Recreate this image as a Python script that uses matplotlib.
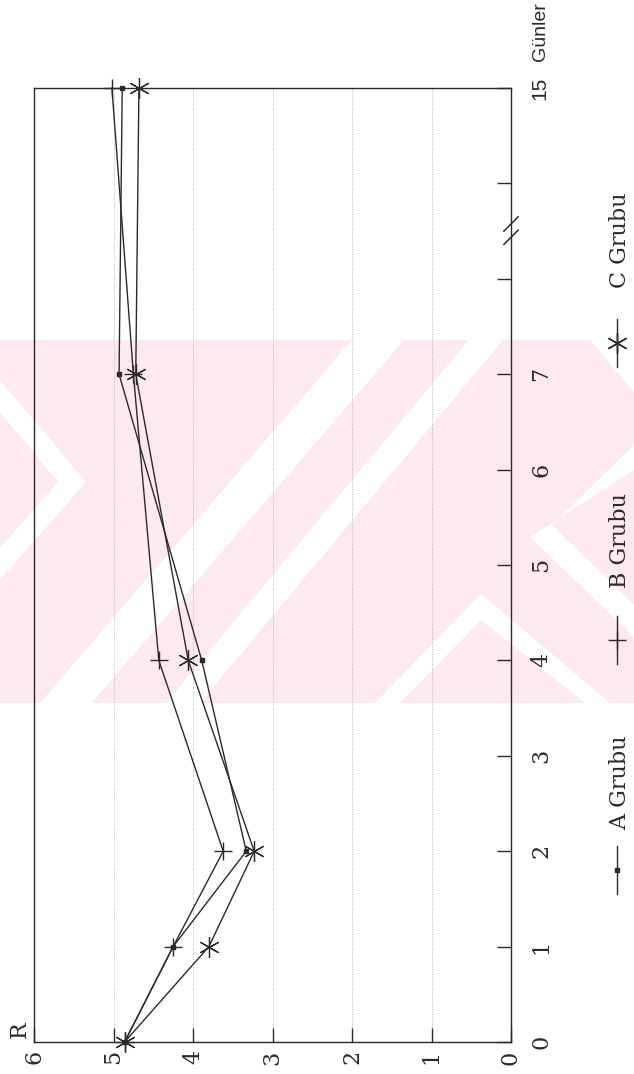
import matplotlib.pyplot as plt
from matplotlib.lines import Line2D
from matplotlib.patches import Polygon

# gün ekseni: 0..7, sonra kırık, 15
gun_etiket = ["0", "1", "2", "3", "4", "5", "6", "7", "", "", "15"]
gun_pos = list(range(len(gun_etiket)))
olcum_pos = [0, 1, 2, 4, 7, 10]          # 0, 1, 2, 4, 7, 15. günler
r_ticks = [0, 1, 2, 3, 4, 5, 6]

a_grubu = [4.86, 4.25, 3.33, 3.89, 4.93, 4.89]
b_grubu = [4.86, 4.25, 3.62, 4.43, 4.75, 5.02]
c_grubu = [4.86, 3.80, 3.23, 4.06, 4.72, 4.68]

W, H = 634, 1074
SERIF = "DejaVu Serif"
SANS = "Liberation Sans"
INK = "#2a2a2a"


def px(x, y):
    return (x / W, 1 - y / H)


fig = plt.figure(figsize=(W / 100, H / 100), dpi=100)

# pembe filigran (sayfadaki arka plan)
pembe = "#fdeaef"
fig.add_artist(Polygon([px(0, 340), px(634, 340), px(634, 703), px(0, 703)],
                       closed=True, fc=pembe, ec="none", zorder=-2,
                       transform=fig.transFigure))
beyaz = [
    [(0, 380), (86, 482), (0, 580), (0, 548), (58, 482), (0, 412)],
    [(352, 340), (404, 340), (92, 703), (40, 703)],
    [(469, 340), (503, 340), (200, 703), (166, 703)],
    [(590, 340), (634, 340), (634, 392)],
    [(634, 445), (552, 525), (634, 605), (634, 637), (530, 537), (634, 470)],
    [(481, 594), (610, 703), (585, 703), (481, 620), (400, 703), (375, 703)],
]
for pts in beyaz:
    fig.add_artist(Polygon([px(x, y) for x, y in pts], closed=True,
                           fc="white", ec="none", zorder=-1,
                           transform=fig.transFigure))

ax = fig.add_axes([34 / W, 1 - 1042 / H, (511 - 34) / W, (1042 - 88) / H])
ax.patch.set_alpha(0)

ax.plot(a_grubu, olcum_pos, color=INK, lw=1, marker="s", ms=3,
        clip_on=False, zorder=3)
ax.plot(b_grubu, olcum_pos, color=INK, lw=1, marker="+", ms=13, mew=1,
        clip_on=False, zorder=3)
ax.plot(c_grubu, olcum_pos, color=INK, lw=1, marker=(6, 2, 0), ms=15, mew=0.9,
        clip_on=False, zorder=3)

ax.set_xlim(6, 0)
ax.set_ylim(0, 10)
ax.set_xticks(r_ticks)
ax.set_xticklabels([str(v) for v in r_ticks], rotation=90, family=SERIF,
                   fontsize=16, color=INK)
ax.yaxis.tick_right()
ax.set_yticks(gun_pos)
ax.set_yticklabels(gun_etiket, rotation=90, va="center", family=SERIF,
                   fontsize=16, color=INK)
ax.get_yticklabels()[-1].set_family(SANS)
ax.get_yticklabels()[-1].set_fontsize(15)
ax.tick_params(direction="in", length=10, width=1, color=INK)
ax.tick_params(axis="y", pad=14)
ax.tick_params(axis="x", pad=6)
ax.grid(axis="x", linestyle=(0, (1, 2)), color="#9a9a9a", lw=0.6)
for s in ax.spines.values():
    s.set_color(INK)
    s.set_linewidth(1)

# kırık işareti //
kt = ax.get_yaxis_transform()
for y0 in (8.36, 8.5):
    ax.plot([0.985, 1.015], [y0, y0 + 0.15], transform=kt, color=INK, lw=1.1,
            clip_on=False)

fig.text(20 / W, 1 - 1030 / H, "R", rotation=90, family=SERIF, fontsize=16,
         color=INK, ha="center", va="center")
fig.text(541 / W, 1 - 32 / H, "Günler", rotation=90, family=SANS,
         fontsize=14, color=INK, ha="center", va="center")

# el ile lejant (döndürülmüş)
lejant = [("A Grubu", "s", 3, 870, 783),
          ("B Grubu", "+", 13, 640, 540),
          ("C Grubu", (6, 2, 0), 15, 343, 240)]
for ad, mk, ms, ym, yt in lejant:
    x0, _ = px(617, 0)
    _, y1 = px(0, ym + 24)
    _, y2 = px(0, ym - 24)
    fig.add_artist(Line2D([x0, x0], [y1, y2], color=INK, lw=1,
                          transform=fig.transFigure))
    fig.add_artist(Line2D([x0], [px(0, ym)[1]], marker=mk, ms=ms, mew=1,
                          color=INK, transform=fig.transFigure))
    fig.text(620 / W, 1 - yt / H, ad, rotation=90, family=SERIF, fontsize=16,
             color=INK, ha="center", va="center")

fig.savefig("out.png", dpi=100)
